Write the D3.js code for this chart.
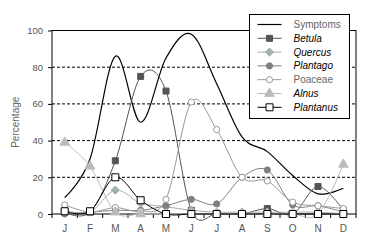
<!DOCTYPE html>
<html>
<head>
<meta charset="utf-8">
<script src="https://cdn.jsdelivr.net/npm/d3@7"></script>
<style>
  body { margin: 0; background: #fff; }
  svg { display: block; font-family: Arial, 'Liberation Sans', sans-serif; }
</style>
</head>
<body>
<svg id="chart"></svg>
<script>
const months = ['J', 'F', 'M', 'A', 'M', 'J', 'J', 'A', 'S', 'O', 'N', 'D'];
const yTicks = [0, 20, 40, 60, 80, 100];

const symptoms = [9, 30, 86, 50, 85, 98, 71, 42, 34, 21, 11, 14];
const betula = [1, 1, 29, 75, 67, 2, 0, 0, 3, 0, 15, 2];
const quercus = [2, 1, 13, 6, 4, 2, 1, 1, 1, 1, 1, 0];
const plantago = [0, 1, 2, 2, 4.5, 8, 5.5, 20, 24, 5, 4.5, 1];
const poaceae = [5, 1, 3.5, 1.5, 8, 61, 46, 20, 18, 6.5, 4.5, 3];
const alnus = [39, 26, 1, 0, 0, 0, 0, 0, 0, 0, 0, 27];
const plantanus = [1.5, 1.5, 20, 7.5, 0, 0, 0, 0, 0, 0, 0, 0];

const width = 369;
const height = 245;
const margin = { top: 30.5, right: 13, bottom: 31, left: 52 };
const innerWidth = width - margin.left - margin.right;
const innerHeight = height - margin.top - margin.bottom;

// rotated square for the diamond markers
const symbolRhombus = {
  draw(context, size) {
    const r = Math.sqrt(size / 2);
    context.moveTo(0, -r);
    context.lineTo(r, 0);
    context.lineTo(0, r);
    context.lineTo(-r, 0);
    context.closePath();
  }
};

const series = [
  { name: 'Symptoms', values: symptoms, color: '#000', symbol: null, fill: null, italic: false, text: '#666' },
  { name: 'Betula', values: betula, color: '#555', symbol: d3.symbolSquare, size: 36, fill: '#555', italic: true, text: '#000' },
  { name: 'Quercus', values: quercus, color: '#a2b2aa', symbol: symbolRhombus, size: 34, fill: '#a2b2aa', italic: true, text: '#000' },
  { name: 'Plantago', values: plantago, color: '#808080', symbol: d3.symbolCircle, size: 30, fill: '#808080', italic: true, text: '#000' },
  { name: 'Poaceae', values: poaceae, color: '#999', symbol: d3.symbolCircle, size: 30, fill: '#fff', italic: false, text: '#666' },
  { name: 'Alnus', values: alnus, color: '#bbb', symbol: d3.symbolTriangle, size: 40, fill: '#bbb', italic: true, text: '#000' },
  { name: 'Plantanus', values: plantanus, color: '#000', symbol: d3.symbolSquare, size: 49, fill: '#fff', italic: true, text: '#000' },
];

const svg = d3.select('#chart')
  .attr('width', width)
  .attr('height', height);

const g = svg.append('g')
  .attr('transform', `translate(${margin.left}, ${margin.top})`);

const x = d3.scaleBand()
  .domain(d3.range(months.length))
  .range([0, innerWidth]);
const cx = i => x(i) + x.bandwidth() / 2;

const y = d3.scaleLinear()
  .domain([0, 100])
  .range([innerHeight, 0]);

// gridlines (dashed), frame solid
g.selectAll('line.grid')
  .data(yTicks.filter(d => d > 0 && d < 100))
  .enter().append('line')
    .attr('class', 'grid')
    .attr('x1', 0)
    .attr('x2', innerWidth)
    .attr('y1', d => y(d))
    .attr('y2', d => y(d))
    .attr('stroke', '#000')
    .attr('stroke-width', 1)
    .attr('stroke-dasharray', '3,2');

g.append('rect')
  .attr('x', 0)
  .attr('y', 0)
  .attr('width', innerWidth)
  .attr('height', innerHeight)
  .attr('fill', 'none')
  .attr('stroke', '#000')
  .attr('stroke-width', 1);

// y axis
const yAxis = g.append('g')
  .call(d3.axisLeft(y).tickValues(yTicks).tickSize(4).tickPadding(5));
yAxis.select('.domain').remove();
yAxis.selectAll('text')
  .attr('font-size', 9.5)
  .attr('fill', '#555')
  .attr('font-family', 'Arial, Liberation Sans, sans-serif');

// x axis: labels at centres, ticks at month boundaries
const xAxis = g.append('g')
  .attr('transform', `translate(0, ${innerHeight})`)
  .call(d3.axisBottom(x).tickSize(0).tickPadding(11).tickFormat(i => months[i]));
xAxis.select('.domain').remove();
xAxis.selectAll('text')
  .attr('font-size', 10)
  .attr('fill', '#555')
  .attr('font-family', 'Arial, Liberation Sans, sans-serif');

g.selectAll('line.xtick')
  .data(d3.range(months.length + 1))
  .enter().append('line')
    .attr('class', 'xtick')
    .attr('x1', i => i < months.length ? x(i) : innerWidth)
    .attr('x2', i => i < months.length ? x(i) : innerWidth)
    .attr('y1', innerHeight)
    .attr('y2', innerHeight + 4)
    .attr('stroke', '#000');

// y label
svg.append('text')
  .attr('transform', `translate(19, ${margin.top + innerHeight / 2}) rotate(-90)`)
  .attr('text-anchor', 'middle')
  .attr('font-size', 10)
  .attr('fill', '#666')
  .text('Percentage');

// lines
const line = d3.line()
  .x((d, i) => cx(i))
  .y(d => y(d))
  .curve(d3.curveCatmullRom.alpha(0));

series.forEach(s => {
  g.append('path')
    .datum(s.values)
    .attr('fill', 'none')
    .attr('stroke', s.color)
    .attr('stroke-width', s.name === 'Symptoms' ? 1.2 : 1)
    .attr('d', line);
});

// markers
series.filter(s => s.symbol).forEach(s => {
  g.selectAll(null)
    .data(s.values)
    .enter().append('path')
      .attr('transform', (d, i) => `translate(${cx(i)}, ${y(d)})`)
      .attr('d', d3.symbol().type(s.symbol).size(s.size))
      .attr('fill', s.fill)
      .attr('stroke', s.color)
      .attr('stroke-width', 1);
});

// legend
const legend = svg.append('g')
  .attr('transform', 'translate(249.5, 14.5)');

legend.append('rect')
  .attr('width', 100)
  .attr('height', 104)
  .attr('fill', '#fff')
  .attr('stroke', '#000');

const rowY = i => 10 + i * 13.8;

series.forEach((s, i) => {
  const row = legend.append('g')
    .attr('transform', `translate(0, ${rowY(i)})`);
  row.append('line')
    .attr('x1', 8)
    .attr('x2', 32)
    .attr('stroke', s.color)
    .attr('stroke-width', s.name === 'Symptoms' ? 1.2 : 1);
  if (s.symbol) {
    row.append('path')
      .attr('transform', 'translate(20, 0)')
      .attr('d', d3.symbol().type(s.symbol).size(s.size))
      .attr('fill', s.fill)
      .attr('stroke', s.color);
  }
  row.append('text')
    .attr('x', 44)
    .attr('y', 3.5)
    .attr('font-size', 10)
    .attr('font-style', s.italic ? 'italic' : 'normal')
    .attr('fill', s.text)
    .text(s.name);
});
</script>
</body>
</html>
